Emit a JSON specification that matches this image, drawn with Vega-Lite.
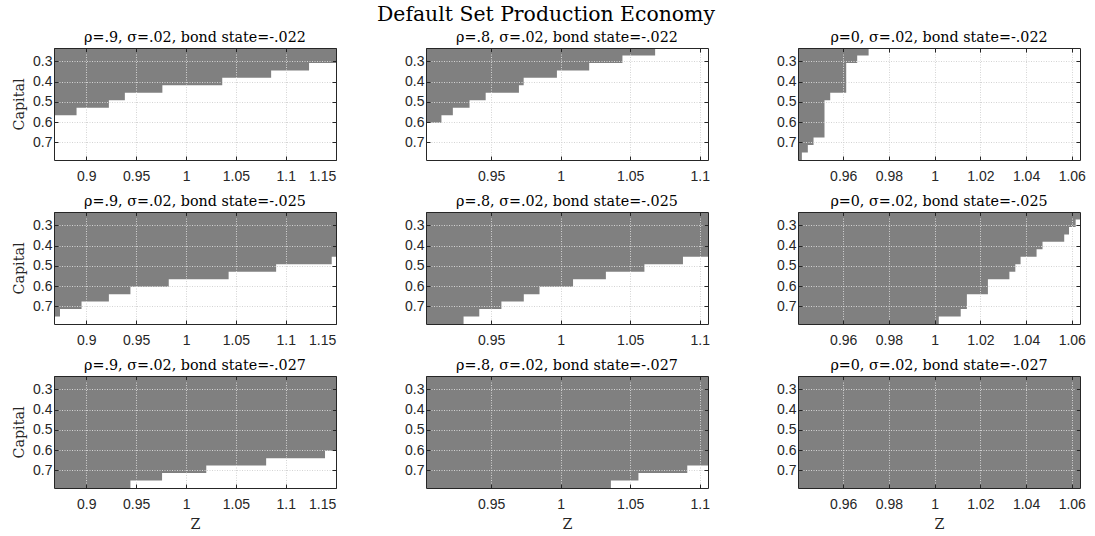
{
  "$schema": "https://vega.github.io/schema/vega-lite/v6.json",
  "padding": {"left": 12, "top": 4, "right": 5, "bottom": 5},
  "background": "white",
  "title": {"text": "Default Set Production Economy", "font": "DejaVu Serif", "fontSize": 20.4, "fontWeight": "normal", "color": "#000000", "anchor": "middle", "frame": "bounds", "offset": 6, "dx": -3},
  "data": {"values": [
    {"p": 1, "z0": 0.8677, "z1": 0.8903, "k": 0.5657},
    {"p": 1, "z0": 0.8903, "z1": 0.9227, "k": 0.5288},
    {"p": 1, "z0": 0.9227, "z1": 0.9387, "k": 0.4920},
    {"p": 1, "z0": 0.9387, "z1": 0.9763, "k": 0.4551},
    {"p": 1, "z0": 0.9763, "z1": 1.0363, "k": 0.4183},
    {"p": 1, "z0": 1.0363, "z1": 1.0853, "k": 0.3814},
    {"p": 1, "z0": 1.0853, "z1": 1.1233, "k": 0.3446},
    {"p": 1, "z0": 1.1233, "z1": 1.1503, "k": 0.3077},

    {"p": 2, "z0": 0.9032, "z1": 0.9143, "k": 0.6025},
    {"p": 2, "z0": 0.9143, "z1": 0.9225, "k": 0.5657},
    {"p": 2, "z0": 0.9225, "z1": 0.9345, "k": 0.5288},
    {"p": 2, "z0": 0.9345, "z1": 0.9461, "k": 0.4920},
    {"p": 2, "z0": 0.9461, "z1": 0.9700, "k": 0.4551},
    {"p": 2, "z0": 0.9700, "z1": 0.9734, "k": 0.4183},
    {"p": 2, "z0": 0.9734, "z1": 0.9973, "k": 0.3814},
    {"p": 2, "z0": 0.9973, "z1": 1.0205, "k": 0.3446},
    {"p": 2, "z0": 1.0205, "z1": 1.0444, "k": 0.3077},
    {"p": 2, "z0": 1.0444, "z1": 1.0679, "k": 0.2709},

    {"p": 3, "z0": 0.9402, "z1": 0.9419, "k": 0.7868},
    {"p": 3, "z0": 0.9419, "z1": 0.9445, "k": 0.7499},
    {"p": 3, "z0": 0.9445, "z1": 0.9470, "k": 0.7131},
    {"p": 3, "z0": 0.9470, "z1": 0.9518, "k": 0.6762},
    {"p": 3, "z0": 0.9518, "z1": 0.9543, "k": 0.4920},
    {"p": 3, "z0": 0.9543, "z1": 0.9613, "k": 0.4551},
    {"p": 3, "z0": 0.9613, "z1": 0.9661, "k": 0.3077},
    {"p": 3, "z0": 0.9661, "z1": 0.9711, "k": 0.2709},

    {"p": 4, "z0": 0.8677, "z1": 0.8737, "k": 0.7499},
    {"p": 4, "z0": 0.8737, "z1": 0.8953, "k": 0.7131},
    {"p": 4, "z0": 0.8953, "z1": 0.9227, "k": 0.6762},
    {"p": 4, "z0": 0.9227, "z1": 0.9443, "k": 0.6394},
    {"p": 4, "z0": 0.9443, "z1": 0.9827, "k": 0.6025},
    {"p": 4, "z0": 0.9827, "z1": 1.0427, "k": 0.5657},
    {"p": 4, "z0": 1.0427, "z1": 1.0903, "k": 0.5288},
    {"p": 4, "z0": 1.0903, "z1": 1.1460, "k": 0.4920},
    {"p": 4, "z0": 1.1460, "z1": 1.1503, "k": 0.4551},

    {"p": 5, "z0": 0.9032, "z1": 0.9302, "k": 0.7868},
    {"p": 5, "z0": 0.9302, "z1": 0.9415, "k": 0.7499},
    {"p": 5, "z0": 0.9415, "z1": 0.9574, "k": 0.7131},
    {"p": 5, "z0": 0.9574, "z1": 0.9735, "k": 0.6762},
    {"p": 5, "z0": 0.9735, "z1": 0.9848, "k": 0.6394},
    {"p": 5, "z0": 0.9848, "z1": 1.0089, "k": 0.6025},
    {"p": 5, "z0": 1.0089, "z1": 1.0325, "k": 0.5657},
    {"p": 5, "z0": 1.0325, "z1": 1.0602, "k": 0.5288},
    {"p": 5, "z0": 1.0602, "z1": 1.0879, "k": 0.4920},
    {"p": 5, "z0": 1.0879, "z1": 1.1059, "k": 0.4551},

    {"p": 6, "z0": 0.9402, "z1": 1.0018, "k": 0.7868},
    {"p": 6, "z0": 1.0018, "z1": 1.0114, "k": 0.7499},
    {"p": 6, "z0": 1.0114, "z1": 1.0141, "k": 0.7131},
    {"p": 6, "z0": 1.0141, "z1": 1.0233, "k": 0.6394},
    {"p": 6, "z0": 1.0233, "z1": 1.0327, "k": 0.5657},
    {"p": 6, "z0": 1.0327, "z1": 1.0353, "k": 0.5288},
    {"p": 6, "z0": 1.0353, "z1": 1.0376, "k": 0.4920},
    {"p": 6, "z0": 1.0376, "z1": 1.0446, "k": 0.4551},
    {"p": 6, "z0": 1.0446, "z1": 1.0472, "k": 0.4183},
    {"p": 6, "z0": 1.0472, "z1": 1.0567, "k": 0.3814},
    {"p": 6, "z0": 1.0567, "z1": 1.0588, "k": 0.3446},
    {"p": 6, "z0": 1.0588, "z1": 1.0617, "k": 0.3077},
    {"p": 6, "z0": 1.0617, "z1": 1.0636, "k": 0.2709},

    {"p": 7, "z0": 0.8677, "z1": 0.9443, "k": 0.7868},
    {"p": 7, "z0": 0.9443, "z1": 0.9760, "k": 0.7499},
    {"p": 7, "z0": 0.9760, "z1": 1.0203, "k": 0.7131},
    {"p": 7, "z0": 1.0203, "z1": 1.0803, "k": 0.6762},
    {"p": 7, "z0": 1.0803, "z1": 1.1393, "k": 0.6394},
    {"p": 7, "z0": 1.1393, "z1": 1.1503, "k": 0.6025},

    {"p": 8, "z0": 0.9032, "z1": 1.0361, "k": 0.7868},
    {"p": 8, "z0": 1.0361, "z1": 1.0559, "k": 0.7499},
    {"p": 8, "z0": 1.0559, "z1": 1.0910, "k": 0.7131},
    {"p": 8, "z0": 1.0910, "z1": 1.1059, "k": 0.6762},

    {"p": 9, "z0": 0.9402, "z1": 1.0636, "k": 0.7868}
  ]},
  "columns": 3,
  "spacing": {"row": 52, "column": 90},
  "bounds": "flush",
  "concat": [
    {
      "width": 282, "height": 112,
      "title": "ρ=.9, σ=.02, bond state=-.022",
      "transform": [{"filter": "datum.p == 1"}],
      "layer": [
        {"mark": {"type": "rect", "color": "#808080"},
         "encoding": {
           "x": {"field": "z1", "type": "quantitative", "scale": {"domain": [0.8677, 1.1503], "nice": false, "zero": false}, "axis": {"values": [0.9, 0.95, 1, 1.05, 1.1, 1.15], "title": null, "ticks": false, "domain": false, "zindex": 1}},
           "x2": {"datum": 0.8677},
           "y": {"field": "k", "type": "quantitative", "scale": {"domain": [0.234, 0.7868], "reverse": true, "nice": false, "zero": false}, "axis": {"values": [0.3, 0.4, 0.5, 0.6, 0.7], "title": "Capital", "ticks": false, "domain": false, "zindex": 1}},
           "y2": {"datum": 0.234}}},
        {"mark": {"type": "rect", "opacity": 0},
         "encoding": {
           "x": {"field": "z1", "type": "quantitative", "axis": {"orient": "bottom", "values": [0.9, 0.95, 1, 1.05, 1.1, 1.15], "labels": false, "grid": false, "title": null, "zindex": 2}},
           "x2": {"datum": 0.8677},
           "y": {"field": "k", "type": "quantitative", "axis": {"orient": "left", "values": [0.3, 0.4, 0.5, 0.6, 0.7], "labels": false, "grid": false, "title": null, "zindex": 2}},
           "y2": {"datum": 0.234}}},
        {"mark": {"type": "rect", "opacity": 0},
         "encoding": {
           "x": {"field": "z1", "type": "quantitative", "axis": {"orient": "top", "values": [0.9, 0.95, 1, 1.05, 1.1, 1.15], "labels": false, "grid": false, "title": null, "zindex": 2}},
           "x2": {"datum": 0.8677},
           "y": {"field": "k", "type": "quantitative", "axis": {"orient": "right", "values": [0.3, 0.4, 0.5, 0.6, 0.7], "labels": false, "grid": false, "title": null, "zindex": 2}},
           "y2": {"datum": 0.234}}}
      ],
      "resolve": {"axis": {"x": "independent", "y": "independent"}}
    },
    {
      "width": 282, "height": 112,
      "title": "ρ=.8, σ=.02, bond state=-.022",
      "transform": [{"filter": "datum.p == 2"}],
      "layer": [
        {"mark": {"type": "rect", "color": "#808080"},
         "encoding": {
           "x": {"field": "z1", "type": "quantitative", "scale": {"domain": [0.9032, 1.1059], "nice": false, "zero": false}, "axis": {"values": [0.95, 1, 1.05, 1.1], "title": null, "ticks": false, "domain": false, "zindex": 1}},
           "x2": {"datum": 0.9032},
           "y": {"field": "k", "type": "quantitative", "scale": {"domain": [0.234, 0.7868], "reverse": true, "nice": false, "zero": false}, "axis": {"values": [0.3, 0.4, 0.5, 0.6, 0.7], "title": null, "ticks": false, "domain": false, "zindex": 1}},
           "y2": {"datum": 0.234}}},
        {"mark": {"type": "rect", "opacity": 0},
         "encoding": {
           "x": {"field": "z1", "type": "quantitative", "axis": {"orient": "bottom", "values": [0.95, 1, 1.05, 1.1], "labels": false, "grid": false, "title": null, "zindex": 2}},
           "x2": {"datum": 0.9032},
           "y": {"field": "k", "type": "quantitative", "axis": {"orient": "left", "values": [0.3, 0.4, 0.5, 0.6, 0.7], "labels": false, "grid": false, "title": null, "zindex": 2}},
           "y2": {"datum": 0.234}}},
        {"mark": {"type": "rect", "opacity": 0},
         "encoding": {
           "x": {"field": "z1", "type": "quantitative", "axis": {"orient": "top", "values": [0.95, 1, 1.05, 1.1], "labels": false, "grid": false, "title": null, "zindex": 2}},
           "x2": {"datum": 0.9032},
           "y": {"field": "k", "type": "quantitative", "axis": {"orient": "right", "values": [0.3, 0.4, 0.5, 0.6, 0.7], "labels": false, "grid": false, "title": null, "zindex": 2}},
           "y2": {"datum": 0.234}}}
      ],
      "resolve": {"axis": {"x": "independent", "y": "independent"}}
    },
    {
      "width": 282, "height": 112,
      "title": "ρ=0, σ=.02, bond state=-.022",
      "transform": [{"filter": "datum.p == 3"}],
      "layer": [
        {"mark": {"type": "rect", "color": "#808080"},
         "encoding": {
           "x": {"field": "z1", "type": "quantitative", "scale": {"domain": [0.9402, 1.0636], "nice": false, "zero": false}, "axis": {"values": [0.96, 0.98, 1, 1.02, 1.04, 1.06], "title": null, "ticks": false, "domain": false, "zindex": 1}},
           "x2": {"datum": 0.9402},
           "y": {"field": "k", "type": "quantitative", "scale": {"domain": [0.234, 0.7868], "reverse": true, "nice": false, "zero": false}, "axis": {"values": [0.3, 0.4, 0.5, 0.6, 0.7], "title": null, "ticks": false, "domain": false, "zindex": 1}},
           "y2": {"datum": 0.234}}},
        {"mark": {"type": "rect", "opacity": 0},
         "encoding": {
           "x": {"field": "z1", "type": "quantitative", "axis": {"orient": "bottom", "values": [0.96, 0.98, 1, 1.02, 1.04, 1.06], "labels": false, "grid": false, "title": null, "zindex": 2}},
           "x2": {"datum": 0.9402},
           "y": {"field": "k", "type": "quantitative", "axis": {"orient": "left", "values": [0.3, 0.4, 0.5, 0.6, 0.7], "labels": false, "grid": false, "title": null, "zindex": 2}},
           "y2": {"datum": 0.234}}},
        {"mark": {"type": "rect", "opacity": 0},
         "encoding": {
           "x": {"field": "z1", "type": "quantitative", "axis": {"orient": "top", "values": [0.96, 0.98, 1, 1.02, 1.04, 1.06], "labels": false, "grid": false, "title": null, "zindex": 2}},
           "x2": {"datum": 0.9402},
           "y": {"field": "k", "type": "quantitative", "axis": {"orient": "right", "values": [0.3, 0.4, 0.5, 0.6, 0.7], "labels": false, "grid": false, "title": null, "zindex": 2}},
           "y2": {"datum": 0.234}}}
      ],
      "resolve": {"axis": {"x": "independent", "y": "independent"}}
    },
    {
      "width": 282, "height": 112,
      "title": "ρ=.9, σ=.02, bond state=-.025",
      "transform": [{"filter": "datum.p == 4"}],
      "layer": [
        {"mark": {"type": "rect", "color": "#808080"},
         "encoding": {
           "x": {"field": "z1", "type": "quantitative", "scale": {"domain": [0.8677, 1.1503], "nice": false, "zero": false}, "axis": {"values": [0.9, 0.95, 1, 1.05, 1.1, 1.15], "title": null, "ticks": false, "domain": false, "zindex": 1}},
           "x2": {"datum": 0.8677},
           "y": {"field": "k", "type": "quantitative", "scale": {"domain": [0.234, 0.7868], "reverse": true, "nice": false, "zero": false}, "axis": {"values": [0.3, 0.4, 0.5, 0.6, 0.7], "title": "Capital", "ticks": false, "domain": false, "zindex": 1}},
           "y2": {"datum": 0.234}}},
        {"mark": {"type": "rect", "opacity": 0},
         "encoding": {
           "x": {"field": "z1", "type": "quantitative", "axis": {"orient": "bottom", "values": [0.9, 0.95, 1, 1.05, 1.1, 1.15], "labels": false, "grid": false, "title": null, "zindex": 2}},
           "x2": {"datum": 0.8677},
           "y": {"field": "k", "type": "quantitative", "axis": {"orient": "left", "values": [0.3, 0.4, 0.5, 0.6, 0.7], "labels": false, "grid": false, "title": null, "zindex": 2}},
           "y2": {"datum": 0.234}}},
        {"mark": {"type": "rect", "opacity": 0},
         "encoding": {
           "x": {"field": "z1", "type": "quantitative", "axis": {"orient": "top", "values": [0.9, 0.95, 1, 1.05, 1.1, 1.15], "labels": false, "grid": false, "title": null, "zindex": 2}},
           "x2": {"datum": 0.8677},
           "y": {"field": "k", "type": "quantitative", "axis": {"orient": "right", "values": [0.3, 0.4, 0.5, 0.6, 0.7], "labels": false, "grid": false, "title": null, "zindex": 2}},
           "y2": {"datum": 0.234}}}
      ],
      "resolve": {"axis": {"x": "independent", "y": "independent"}}
    },
    {
      "width": 282, "height": 112,
      "title": "ρ=.8, σ=.02, bond state=-.025",
      "transform": [{"filter": "datum.p == 5"}],
      "layer": [
        {"mark": {"type": "rect", "color": "#808080"},
         "encoding": {
           "x": {"field": "z1", "type": "quantitative", "scale": {"domain": [0.9032, 1.1059], "nice": false, "zero": false}, "axis": {"values": [0.95, 1, 1.05, 1.1], "title": null, "ticks": false, "domain": false, "zindex": 1}},
           "x2": {"datum": 0.9032},
           "y": {"field": "k", "type": "quantitative", "scale": {"domain": [0.234, 0.7868], "reverse": true, "nice": false, "zero": false}, "axis": {"values": [0.3, 0.4, 0.5, 0.6, 0.7], "title": null, "ticks": false, "domain": false, "zindex": 1}},
           "y2": {"datum": 0.234}}},
        {"mark": {"type": "rect", "opacity": 0},
         "encoding": {
           "x": {"field": "z1", "type": "quantitative", "axis": {"orient": "bottom", "values": [0.95, 1, 1.05, 1.1], "labels": false, "grid": false, "title": null, "zindex": 2}},
           "x2": {"datum": 0.9032},
           "y": {"field": "k", "type": "quantitative", "axis": {"orient": "left", "values": [0.3, 0.4, 0.5, 0.6, 0.7], "labels": false, "grid": false, "title": null, "zindex": 2}},
           "y2": {"datum": 0.234}}},
        {"mark": {"type": "rect", "opacity": 0},
         "encoding": {
           "x": {"field": "z1", "type": "quantitative", "axis": {"orient": "top", "values": [0.95, 1, 1.05, 1.1], "labels": false, "grid": false, "title": null, "zindex": 2}},
           "x2": {"datum": 0.9032},
           "y": {"field": "k", "type": "quantitative", "axis": {"orient": "right", "values": [0.3, 0.4, 0.5, 0.6, 0.7], "labels": false, "grid": false, "title": null, "zindex": 2}},
           "y2": {"datum": 0.234}}}
      ],
      "resolve": {"axis": {"x": "independent", "y": "independent"}}
    },
    {
      "width": 282, "height": 112,
      "title": "ρ=0, σ=.02, bond state=-.025",
      "transform": [{"filter": "datum.p == 6"}],
      "layer": [
        {"mark": {"type": "rect", "color": "#808080"},
         "encoding": {
           "x": {"field": "z1", "type": "quantitative", "scale": {"domain": [0.9402, 1.0636], "nice": false, "zero": false}, "axis": {"values": [0.96, 0.98, 1, 1.02, 1.04, 1.06], "title": null, "ticks": false, "domain": false, "zindex": 1}},
           "x2": {"datum": 0.9402},
           "y": {"field": "k", "type": "quantitative", "scale": {"domain": [0.234, 0.7868], "reverse": true, "nice": false, "zero": false}, "axis": {"values": [0.3, 0.4, 0.5, 0.6, 0.7], "title": null, "ticks": false, "domain": false, "zindex": 1}},
           "y2": {"datum": 0.234}}},
        {"mark": {"type": "rect", "opacity": 0},
         "encoding": {
           "x": {"field": "z1", "type": "quantitative", "axis": {"orient": "bottom", "values": [0.96, 0.98, 1, 1.02, 1.04, 1.06], "labels": false, "grid": false, "title": null, "zindex": 2}},
           "x2": {"datum": 0.9402},
           "y": {"field": "k", "type": "quantitative", "axis": {"orient": "left", "values": [0.3, 0.4, 0.5, 0.6, 0.7], "labels": false, "grid": false, "title": null, "zindex": 2}},
           "y2": {"datum": 0.234}}},
        {"mark": {"type": "rect", "opacity": 0},
         "encoding": {
           "x": {"field": "z1", "type": "quantitative", "axis": {"orient": "top", "values": [0.96, 0.98, 1, 1.02, 1.04, 1.06], "labels": false, "grid": false, "title": null, "zindex": 2}},
           "x2": {"datum": 0.9402},
           "y": {"field": "k", "type": "quantitative", "axis": {"orient": "right", "values": [0.3, 0.4, 0.5, 0.6, 0.7], "labels": false, "grid": false, "title": null, "zindex": 2}},
           "y2": {"datum": 0.234}}}
      ],
      "resolve": {"axis": {"x": "independent", "y": "independent"}}
    },
    {
      "width": 282, "height": 112,
      "title": "ρ=.9, σ=.02, bond state=-.027",
      "transform": [{"filter": "datum.p == 7"}],
      "layer": [
        {"mark": {"type": "rect", "color": "#808080"},
         "encoding": {
           "x": {"field": "z1", "type": "quantitative", "scale": {"domain": [0.8677, 1.1503], "nice": false, "zero": false}, "axis": {"values": [0.9, 0.95, 1, 1.05, 1.1, 1.15], "title": "Z", "ticks": false, "domain": false, "zindex": 1}},
           "x2": {"datum": 0.8677},
           "y": {"field": "k", "type": "quantitative", "scale": {"domain": [0.234, 0.7868], "reverse": true, "nice": false, "zero": false}, "axis": {"values": [0.3, 0.4, 0.5, 0.6, 0.7], "title": "Capital", "ticks": false, "domain": false, "zindex": 1}},
           "y2": {"datum": 0.234}}},
        {"mark": {"type": "rect", "opacity": 0},
         "encoding": {
           "x": {"field": "z1", "type": "quantitative", "axis": {"orient": "bottom", "values": [0.9, 0.95, 1, 1.05, 1.1, 1.15], "labels": false, "grid": false, "title": null, "zindex": 2}},
           "x2": {"datum": 0.8677},
           "y": {"field": "k", "type": "quantitative", "axis": {"orient": "left", "values": [0.3, 0.4, 0.5, 0.6, 0.7], "labels": false, "grid": false, "title": null, "zindex": 2}},
           "y2": {"datum": 0.234}}},
        {"mark": {"type": "rect", "opacity": 0},
         "encoding": {
           "x": {"field": "z1", "type": "quantitative", "axis": {"orient": "top", "values": [0.9, 0.95, 1, 1.05, 1.1, 1.15], "labels": false, "grid": false, "title": null, "zindex": 2}},
           "x2": {"datum": 0.8677},
           "y": {"field": "k", "type": "quantitative", "axis": {"orient": "right", "values": [0.3, 0.4, 0.5, 0.6, 0.7], "labels": false, "grid": false, "title": null, "zindex": 2}},
           "y2": {"datum": 0.234}}}
      ],
      "resolve": {"axis": {"x": "independent", "y": "independent"}}
    },
    {
      "width": 282, "height": 112,
      "title": "ρ=.8, σ=.02, bond state=-.027",
      "transform": [{"filter": "datum.p == 8"}],
      "layer": [
        {"mark": {"type": "rect", "color": "#808080"},
         "encoding": {
           "x": {"field": "z1", "type": "quantitative", "scale": {"domain": [0.9032, 1.1059], "nice": false, "zero": false}, "axis": {"values": [0.95, 1, 1.05, 1.1], "title": "Z", "ticks": false, "domain": false, "zindex": 1}},
           "x2": {"datum": 0.9032},
           "y": {"field": "k", "type": "quantitative", "scale": {"domain": [0.234, 0.7868], "reverse": true, "nice": false, "zero": false}, "axis": {"values": [0.3, 0.4, 0.5, 0.6, 0.7], "title": null, "ticks": false, "domain": false, "zindex": 1}},
           "y2": {"datum": 0.234}}},
        {"mark": {"type": "rect", "opacity": 0},
         "encoding": {
           "x": {"field": "z1", "type": "quantitative", "axis": {"orient": "bottom", "values": [0.95, 1, 1.05, 1.1], "labels": false, "grid": false, "title": null, "zindex": 2}},
           "x2": {"datum": 0.9032},
           "y": {"field": "k", "type": "quantitative", "axis": {"orient": "left", "values": [0.3, 0.4, 0.5, 0.6, 0.7], "labels": false, "grid": false, "title": null, "zindex": 2}},
           "y2": {"datum": 0.234}}},
        {"mark": {"type": "rect", "opacity": 0},
         "encoding": {
           "x": {"field": "z1", "type": "quantitative", "axis": {"orient": "top", "values": [0.95, 1, 1.05, 1.1], "labels": false, "grid": false, "title": null, "zindex": 2}},
           "x2": {"datum": 0.9032},
           "y": {"field": "k", "type": "quantitative", "axis": {"orient": "right", "values": [0.3, 0.4, 0.5, 0.6, 0.7], "labels": false, "grid": false, "title": null, "zindex": 2}},
           "y2": {"datum": 0.234}}}
      ],
      "resolve": {"axis": {"x": "independent", "y": "independent"}}
    },
    {
      "width": 282, "height": 112,
      "title": "ρ=0, σ=.02, bond state=-.027",
      "transform": [{"filter": "datum.p == 9"}],
      "layer": [
        {"mark": {"type": "rect", "color": "#808080"},
         "encoding": {
           "x": {"field": "z1", "type": "quantitative", "scale": {"domain": [0.9402, 1.0636], "nice": false, "zero": false}, "axis": {"values": [0.96, 0.98, 1, 1.02, 1.04, 1.06], "title": "Z", "ticks": false, "domain": false, "zindex": 1}},
           "x2": {"datum": 0.9402},
           "y": {"field": "k", "type": "quantitative", "scale": {"domain": [0.234, 0.7868], "reverse": true, "nice": false, "zero": false}, "axis": {"values": [0.3, 0.4, 0.5, 0.6, 0.7], "title": null, "ticks": false, "domain": false, "zindex": 1}},
           "y2": {"datum": 0.234}}},
        {"mark": {"type": "rect", "opacity": 0},
         "encoding": {
           "x": {"field": "z1", "type": "quantitative", "axis": {"orient": "bottom", "values": [0.96, 0.98, 1, 1.02, 1.04, 1.06], "labels": false, "grid": false, "title": null, "zindex": 2}},
           "x2": {"datum": 0.9402},
           "y": {"field": "k", "type": "quantitative", "axis": {"orient": "left", "values": [0.3, 0.4, 0.5, 0.6, 0.7], "labels": false, "grid": false, "title": null, "zindex": 2}},
           "y2": {"datum": 0.234}}},
        {"mark": {"type": "rect", "opacity": 0},
         "encoding": {
           "x": {"field": "z1", "type": "quantitative", "axis": {"orient": "top", "values": [0.96, 0.98, 1, 1.02, 1.04, 1.06], "labels": false, "grid": false, "title": null, "zindex": 2}},
           "x2": {"datum": 0.9402},
           "y": {"field": "k", "type": "quantitative", "axis": {"orient": "right", "values": [0.3, 0.4, 0.5, 0.6, 0.7], "labels": false, "grid": false, "title": null, "zindex": 2}},
           "y2": {"datum": 0.234}}}
      ],
      "resolve": {"axis": {"x": "independent", "y": "independent"}}
    }
  ],
  "config": {
    "font": "Liberation Sans",
    "view": {"stroke": null},
    "axis": {
      "grid": true, "gridColor": "#d4d4d4", "gridDash": [1, 1.5], "gridWidth": 1,
      "domain": true, "domainColor": "#262626", "domainWidth": 1,
      "ticks": true, "tickColor": "#262626", "tickSize": -4, "tickWidth": 1,
      "labelFont": "Liberation Sans", "labelFontSize": 14, "labelColor": "#262626",
      "titleFont": "DejaVu Serif", "titleFontSize": 14.3, "titleFontWeight": "normal", "titleColor": "#262626"
    },
    "axisX": {"labelPadding": 9, "format": "~g", "titlePadding": 6},
    "axisY": {"labelPadding": 2, "format": ".1f", "titlePadding": 6},
    "title": {"font": "DejaVu Serif", "fontSize": 14.3, "fontWeight": "normal", "color": "#000000", "offset": 2}
  }
}
